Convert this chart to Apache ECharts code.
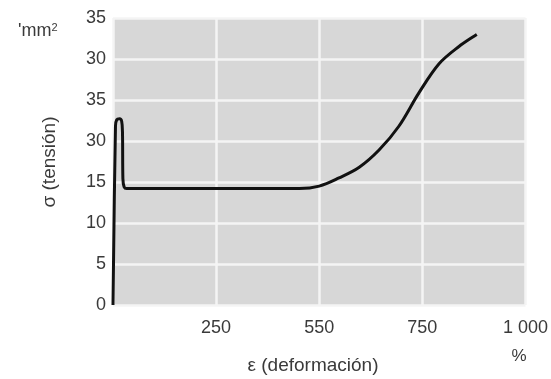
<!DOCTYPE html>
<html><head><meta charset="utf-8">
<script src="https://cdn.jsdelivr.net/npm/echarts@6/dist/echarts.min.js"></script>
<style>html,body{margin:0;padding:0;background:#fff}#c{width:551px;height:379px}</style>
</head><body><div id="c"></div>
<script>
// Tick labels as printed in the original figure
const yTickLabels = ['0', '5', '10', '15', '30', '35', '30', '35'];
const xTickLabels = ['', '250', '550', '750', '1 000'];
// Curve points: strain position (axis units 0..1000) and stress position (axis units 0..35)
const strain = [0, 6, 9, 16, 21, 23, 24, 27, 33, 48, 200, 452, 500, 548, 597, 645, 693, 742, 790, 838, 882];
const stress = [0, 21.8, 22.6, 22.7, 22.4, 21.0, 15.4, 14.4, 14.2, 14.2, 14.2, 14.2, 14.5, 15.5, 16.8, 18.9, 21.8, 25.9, 29.4, 31.5, 33.0];

const data = strain.map((x, i) => [x, stress[i]]);
const font = 'Liberation Sans';
const chart = echarts.init(document.getElementById('c'));
chart.setOption({
  animation: false,
  backgroundColor: '#ffffff',
  grid: { left: 113, right: 24, top: 18, bottom: 74, show: true, backgroundColor: '#d7d7d7', borderWidth: 0 },
  xAxis: {
    type: 'value', min: 0, max: 1000, interval: 250,
    axisLine: { show: false }, axisTick: { show: false },
    axisLabel: { formatter: (v) => xTickLabels[Math.round(v / 250)], color: '#3a3a3a', fontSize: 18, fontFamily: font, margin: 14 },
    splitLine: { show: true, lineStyle: { color: '#f4f4f4', width: 2.5 } }
  },
  yAxis: {
    type: 'value', min: 0, max: 35, interval: 5,
    axisLine: { show: false }, axisTick: { show: false },
    axisLabel: { formatter: (v) => yTickLabels[Math.round(v / 5)], color: '#3a3a3a', fontSize: 18, fontFamily: font, margin: 7 },
    splitLine: { show: true, lineStyle: { color: '#f4f4f4', width: 2.5 } }
  },
  series: [{
    type: 'line', data: data, showSymbol: false, smooth: 0.35,
    lineStyle: { color: '#111111', width: 3 }
  }],
  graphic: [
    { type: 'text', left: 18, top: 22, style: { text: "'mm{s|2}", fill: '#3a3a3a', font: '18px ' + font, rich: { s: { fontSize: 11, verticalAlign: 'top', fill: '#3a3a3a', fontFamily: font, padding: [0, 0, 8, 0] } } } },
    { type: 'text', x: 50, y: 162, rotation: Math.PI / 2, style: { text: 'σ (tensión)', fill: '#3a3a3a', font: '19px ' + font, align: 'center', verticalAlign: 'middle' } },
    { type: 'text', x: 313, y: 366, style: { text: 'ε (deformación)', fill: '#3a3a3a', font: '19px ' + font, align: 'center', verticalAlign: 'middle' } },
    { type: 'text', x: 519, y: 356, style: { text: '%', fill: '#3a3a3a', font: '17px ' + font, align: 'center', verticalAlign: 'middle' } }
  ]
});
</script></body></html>
